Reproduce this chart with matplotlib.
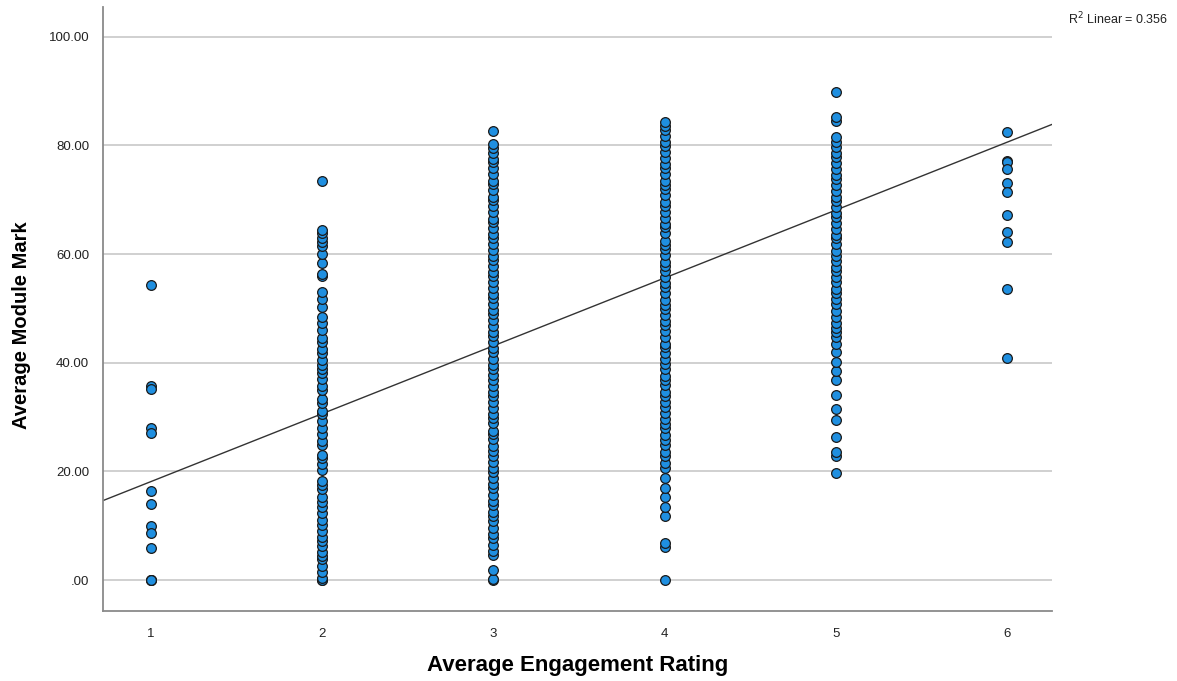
import numpy as np
import matplotlib
matplotlib.use('Agg')

import matplotlib.pyplot as plt

# Average module mark per student, grouped by engagement rating (1-6)
marks_1 = [54.3, 35.8, 35.2, 28.0, 27.0, 16.3, 14.0, 10.0, 8.6, 5.9, 0.0, 0.0, 0.0]
marks_2 = [0.0, 0.0, 0.3, 1.5, 2.6, 3.8, 4.4, 5.1, 6.3, 7.2, 8.0, 9.1, 10.2, 11.0,
           12.3, 13.5, 14.4, 15.2, 16.8, 17.5, 18.3, 20.2, 21.4, 22.5, 23.1, 24.8,
           25.6, 26.9, 28.0, 29.3, 30.5, 31.2, 32.6, 33.4, 34.9, 35.8, 37.0, 38.2,
           38.9, 39.6, 40.5, 41.8, 42.6, 43.9, 44.5, 46.1, 47.3, 48.5, 50.2, 51.8,
           53.1, 55.9, 56.3, 58.4, 60.1, 61.5, 62.2, 63.0, 63.8, 64.5, 73.4]
marks_3 = [0.0, 0.1, 1.8, 4.6, 5.3, 6.4, 7.8, 8.5, 9.6, 10.9, 11.8, 12.6, 13.9,
           14.5, 15.7, 16.9, 17.6, 18.8, 19.9, 20.7, 21.8, 22.9, 23.7, 24.6, 25.9,
           26.8, 27.5, 28.9, 29.8, 30.6, 31.7, 32.8, 33.9, 34.6, 35.8, 36.9, 37.7,
           38.8, 39.5, 40.6, 41.9, 42.7, 43.8, 44.9, 45.6, 46.7, 47.8, 48.9, 49.7,
           50.8, 51.9, 52.6, 53.7, 54.8, 55.9, 56.7, 57.8, 58.9, 59.6, 60.7, 61.8,
           62.9, 63.7, 64.8, 65.9, 66.5, 67.7, 68.8, 69.9, 70.6, 71.8, 72.9, 73.5,
           74.7, 75.8, 76.9, 77.6, 78.7, 79.5, 80.3, 82.7]
marks_4 = [0.0, 6.0, 6.9, 11.7, 13.4, 15.3, 16.9, 18.7, 20.7, 21.6, 22.8, 23.5,
           24.9, 25.8, 26.7, 27.9, 28.8, 29.6, 30.8, 31.9, 32.7, 33.8, 34.6, 35.9,
           36.8, 37.5, 38.9, 39.7, 40.6, 41.8, 42.9, 43.5, 44.7, 45.8, 46.9, 47.6,
           48.8, 49.9, 50.7, 51.5, 52.8, 53.9, 54.6, 55.7, 56.8, 57.9, 58.6, 59.8,
           60.9, 61.7, 62.5, 63.8, 64.9, 65.6, 66.7, 67.8, 68.9, 69.6, 70.8, 71.9,
           72.7, 73.5, 74.8, 75.9, 76.6, 77.7, 78.8, 79.9, 80.6, 81.8, 82.9, 83.6,
           84.3]
marks_5 = [19.7, 22.8, 23.6, 26.4, 29.4, 31.5, 34.0, 36.8, 38.4, 40.2, 41.9, 43.5,
           44.8, 45.6, 46.4, 47.3, 48.5, 49.6, 50.8, 51.7, 52.9, 53.6, 54.8, 55.7,
           56.9, 57.6, 58.8, 59.7, 60.5, 61.8, 62.9, 63.6, 64.7, 65.8, 66.9, 67.6,
           68.7, 69.8, 70.6, 71.7, 72.8, 73.9, 74.6, 75.7, 76.8, 77.9, 78.6, 79.8,
           80.6, 81.5, 84.5, 85.3, 89.8]
marks_6 = [82.4, 77.2, 77.0, 75.6, 73.0, 71.5, 67.2, 64.1, 62.3, 53.6, 40.8]

ratings = [1, 2, 3, 4, 5, 6]
groups = [marks_1, marks_2, marks_3, marks_4, marks_5, marks_6]

# linear fit line
fit_intercept = 5.6
fit_slope = 12.5
r_squared = 0.356

y_ticks = [0, 20, 40, 60, 80, 100]
y_ticklabels = [".00", "20.00", "40.00", "60.00", "80.00", "100.00"]

plt.rcParams['font.family'] = ['Liberation Sans', 'DejaVu Sans']

fig = plt.figure(figsize=(11.77, 6.81), dpi=100)
ax = fig.add_axes([0.0875, 0.1028, 0.806, 0.887])

xlim = (0.722, 6.26)
ax.set_xlim(*xlim)
ax.set_ylim(-5.7, 105.5)

for grid_y in y_ticks:
    ax.axhline(grid_y, color="#c4c4c4", lw=1.1, zorder=1)

for r, vals in zip(ratings, groups):
    ax.plot([r] * len(vals), vals, "o", ms=7, mfc="#1f8fe0", mec="#1a1a1a",
            mew=0.9, zorder=3, linestyle="none")

fx = np.array(xlim)
ax.plot(fx, fit_intercept + fit_slope * fx, color="#333333", lw=1.0, zorder=2)

ax.set_xticks(ratings)
ax.set_yticks(y_ticks)
ax.set_yticklabels(y_ticklabels)
ax.tick_params(length=0, labelsize=9.5, colors="#222222", pad=10)
ax.tick_params(axis="x", pad=12)

for s in ["top", "right"]:
    ax.spines[s].set_visible(False)
for s in ["left", "bottom"]:
    ax.spines[s].set_color("#8a8a8a")
    ax.spines[s].set_linewidth(1.3)

ax.set_xlabel("Average Engagement Rating", fontsize=16, fontweight="bold", va="center")
ax.xaxis.set_label_coords(0.5, -0.091)
ax.set_ylabel("Average Module Mark", fontsize=14.5, fontweight="bold", va="center")
ax.yaxis.set_label_coords(-0.0864, 0.4735)

fig.text(0.9075, 0.965, f"R$^2$ Linear = {r_squared}", fontsize=9, color="#222222")

plt.savefig("out.png")
